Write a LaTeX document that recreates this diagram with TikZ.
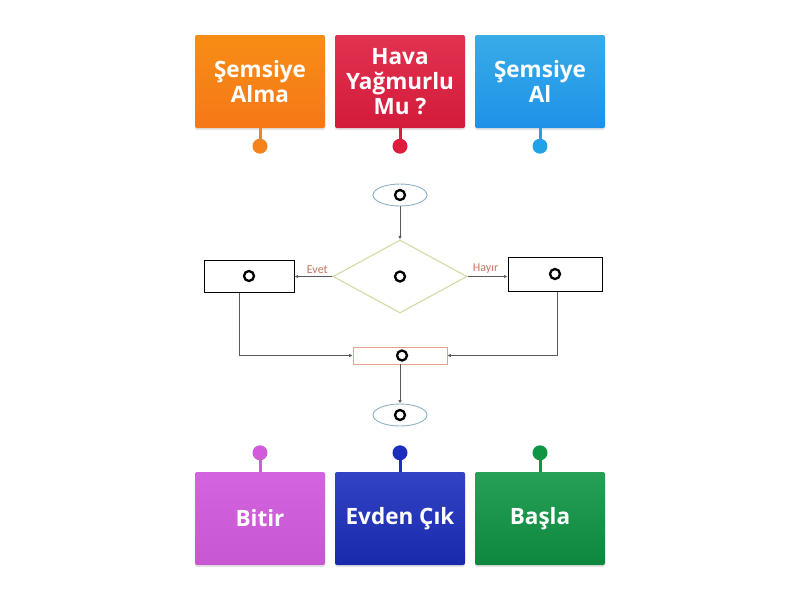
\documentclass[tikz,border=0pt]{standalone}
\usepackage{fontspec}
\setmainfont{Open Sans}
\newfontfamily\labelfont{Carlito}
\usetikzlibrary{shapes.geometric,shadows,arrows.meta}
\definecolor{orangec}{HTML}{F5821A}
\definecolor{redc}{HTML}{DE1C3E}
\definecolor{bluec}{HTML}{22A2E6}
\definecolor{purplec}{HTML}{D25BDD}
\definecolor{navyc}{HTML}{1B2EBE}
\definecolor{greenc}{HTML}{0F9645}
\definecolor{linkc}{HTML}{5A5A5A}
\definecolor{labelc}{HTML}{C8765E}
\definecolor{diamondc}{HTML}{D3DBA4}
\definecolor{ovalc}{HTML}{8CB2C4}
\definecolor{goc}{HTML}{E3A18F}

\begin{document}
\begin{tikzpicture}[
        x=1pt, y=-1pt,
        card/.style={minimum width=130pt, minimum height=93pt, inner sep=0pt,
            rounded corners=2pt, text=white, align=center,
            font=\bfseries\fontsize{22.5}{25}\selectfont,
            drop shadow={opacity=0.2, shadow xshift=0pt, shadow yshift=-2pt}},
        stem/.style={line width=3pt},
        pinhead/.style={circle, minimum size=15pt, inner sep=0pt},
        blank/.style={circle, draw=black, line width=2.3pt, minimum size=10pt, inner sep=0pt},
        terminal/.style={ellipse, draw=ovalc, line width=0.9pt, minimum width=54pt, minimum height=22pt, inner sep=0pt},
        decision/.style={diamond, draw=diamondc, line width=1.1pt, minimum width=134pt, minimum height=73pt, inner sep=0pt},
        process/.style={rectangle, draw=black, line width=1pt, minimum width=90pt, minimum height=32pt, inner sep=0pt},
        link/.style={draw=linkc, -{Latex[length=3.5pt,width=3.5pt]}, line width=0.8pt},
        answer/.style={text=labelc, font=\labelfont\fontsize{12}{13}\selectfont},
    ]
    \fill[white] (0,0) rectangle (800,600);

    % answer cards
    \node[card, top color=orangec!85!yellow!95!red, bottom color=orangec!92!red] (alma) at (260,81.5) {Şemsiye\\Alma};
    \node[card, top color=redc!90!white, bottom color=redc!95!black] (soru) at (400,81.5) {Hava\\Yağmurlu\\Mu ?};
    \node[card, top color=bluec!90!white, bottom color=bluec!90!blue] (al) at (540,81.5) {Şemsiye\\Al};
    \node[card, top color=purplec!95!white, bottom color=purplec!95!black] (bitir) at (260,518.5) {Bitir};
    \node[card, top color=navyc!90!white, bottom color=navyc!90!black] (evden) at (400,518.5) {Evden Çık};
    \node[card, top color=greenc!90!white, bottom color=greenc!90!black] (basla) at (540,518.5) {Başla};

    % pins
    \draw[stem, orangec] (alma.south) -- ++(0,18) node[pinhead, fill=orangec] (p1) {};
    \draw[stem, redc] (soru.south) -- ++(0,18) node[pinhead, fill=redc] (p2) {};
    \draw[stem, bluec] (al.south) -- ++(0,18) node[pinhead, fill=bluec] (p3) {};
    \draw[stem, purplec] (bitir.north) -- ++(0,-19) node[pinhead, fill=purplec] (p4) {};
    \draw[stem, navyc] (evden.north) -- ++(0,-19) node[pinhead, fill=navyc] (p5) {};
    \draw[stem, greenc] (basla.north) -- ++(0,-19) node[pinhead, fill=greenc] (p6) {};

    % flowchart
    \node[terminal] (start) at (400,195) {};
    \node[decision] (rain) at (400,276.5) {};
    \node[process] (yes) at (249,276) {};
    \node[process, minimum width=94pt, minimum height=34pt] (no) at (555,274) {};
    \node[rectangle, draw=goc, line width=0.8pt, minimum width=94pt, minimum height=17pt, inner sep=0pt] (go) at (400,355.5) {};
    \node[terminal] (stop) at (400,415) {};

    \draw[link] (start) -- (rain);
    \draw[link] (rain.west) -- node[answer, above=-1pt, pos=0.4] (evet) {Evet} (rain.west -| yes.east);
    \draw[link] (rain.east) -- node[answer, above=-1pt, pos=0.45] (hayir) {Hayır} (rain.east -| no.west);
    \draw[link] ([xshift=-10pt]yes.south) |- (go.west);
    \draw[link] ([xshift=2pt]no.south) |- (go.east);
    \draw[link] (go) -- (stop);

    % blanks
    \node[blank] (m1) at (start) {};
    \node[blank] (m2) at (rain) {};
    \node[blank] (m3) at (yes) {};
    \node[blank] (m4) at (no) {};
    \node[blank] (m5) at ([xshift=2pt]go.center) {};
    \node[blank] (m6) at (stop) {};
\end{tikzpicture}
\end{document}
